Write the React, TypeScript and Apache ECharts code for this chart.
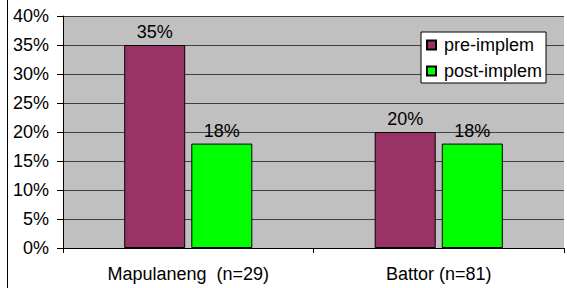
import React, { useEffect, useRef } from "react";
import * as echarts from "echarts";

const categories = ["Mapulaneng  (n=29)", "Battor (n=81)"];
const preImplem = [0.35, 0.2];
const postImplem = [0.18, 0.18];
const seriesNames = ["pre-implem", "post-implem"];

const FONT = "Liberation Sans, Arial, sans-serif";
const FS = 18;

export default function App() {
  const ref = useRef<HTMLDivElement>(null);
  useEffect(() => {
    if (!ref.current) return;
    const chart = echarts.init(ref.current, undefined, { renderer: "svg" });
    const pct = (v: number) => Math.round(v * 100) + "%";
    const labelCfg = {
      show: true,
      position: "top",
      distance: 4,
      color: "#000",
      fontFamily: FONT,
      fontSize: FS,
      formatter: (p: any) => pct(p.value),
    };
    chart.setOption({
      animation: false,
      backgroundColor: "#fff",
      textStyle: { fontFamily: FONT },
      grid: {
        left: 63,
        right: 3,
        top: 16,
        bottom: 40,
        show: true,
        backgroundColor: "#c0c0c0",
        borderWidth: 0,
      },
      legend: {
        left: 421,
        top: 32,
        orient: "vertical",
        backgroundColor: "#fff",
        borderColor: "#000",
        borderWidth: 1,
        borderRadius: 0,
        padding: [3, 4, 2, 5],
        itemWidth: 9,
        itemHeight: 9,
        itemGap: 6,
        icon: "rect",
        textStyle: {
          fontFamily: FONT,
          fontSize: FS,
          color: "#000",
          lineHeight: 20,
          padding: [0, 0, 0, 3],
        },
        data: seriesNames,
      },
      xAxis: {
        type: "category",
        data: categories,
        axisLine: { lineStyle: { color: "#000", width: 1 } },
        axisTick: { show: true, length: 5, lineStyle: { color: "#000" } },
        axisLabel: { color: "#000", fontFamily: FONT, fontSize: FS, margin: 17 },
      },
      yAxis: {
        type: "value",
        min: 0,
        max: 0.4,
        interval: 0.05,
        axisLine: { show: true, lineStyle: { color: "#000", width: 1 } },
        axisTick: { show: true, length: 6, lineStyle: { color: "#000" } },
        axisLabel: {
          color: "#000",
          fontFamily: FONT,
          fontSize: FS,
          margin: 14,
          formatter: (v: number) => pct(v),
        },
        splitLine: { show: true, lineStyle: { color: "#404040", width: 1 } },
      },
      series: [
        {
          name: seriesNames[0],
          type: "bar",
          data: preImplem,
          barWidth: 61,
          barGap: "10%",
          itemStyle: { color: "#993366", borderColor: "#000", borderWidth: 1 },
          label: labelCfg,
        },
        {
          name: seriesNames[1],
          type: "bar",
          data: postImplem,
          barWidth: 61,
          barGap: "10%",
          itemStyle: { color: "#00ff00", borderColor: "#000", borderWidth: 1 },
          label: labelCfg,
        },
      ],
      graphic: [
        {
          type: "line",
          shape: { x1: 7.5, y1: 0, x2: 7.5, y2: 288 },
          style: { stroke: "#000", lineWidth: 1 },
          silent: true,
        },
      ],
    });
    return () => chart.dispose();
  }, []);
  return (
    <div
      ref={ref}
      style={{ position: "fixed", left: 0, top: 0, width: 567, height: 288 }}
    />
  );
}
